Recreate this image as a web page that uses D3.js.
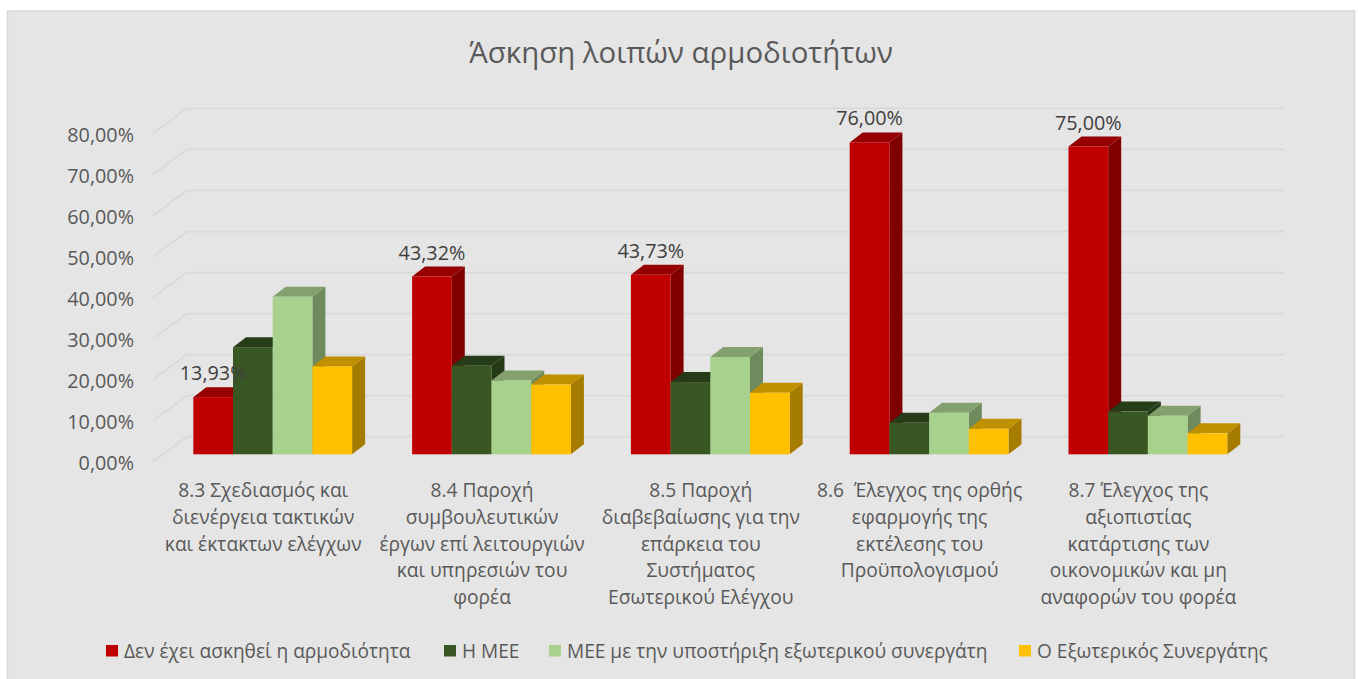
<!DOCTYPE html>
<html>
<head>
<meta charset="utf-8">
<script src="https://cdn.jsdelivr.net/npm/d3@7"></script>
<style>
html, body { margin: 0; background: #fff; }
text { font-family: "Open Sans", "Noto Sans", sans-serif; }
</style>
</head>
<body>
<svg width="1358" height="679"></svg>
<script>
var chartTitle = "Άσκηση λοιπών αρμοδιοτήτων";

var categories = [
    ["8.3 Σχεδιασμός και", "διενέργεια τακτικών", "και έκτακτων ελέγχων"],
    ["8.4 Παροχή", "συμβουλευτικών", "έργων επί λειτουργιών", "και υπηρεσιών του", "φορέα"],
    ["8.5 Παροχή", "διαβεβαίωσης για την", "επάρκεια του", "Συστήματος", "Εσωτερικού Ελέγχου"],
    ["8.6  Έλεγχος της ορθής", "εφαρμογής της", "εκτέλεσης του", "Προϋπολογισμού"],
    ["8.7 Έλεγχος της", "αξιοπιστίας", "κατάρτισης των", "οικονομικών και μη", "αναφορών του φορέα"]
];
var seriesNames = ["Δεν έχει ασκηθεί η αρμοδιότητα", "Η ΜΕΕ", "ΜΕΕ με την υποστήριξη εξωτερικού συνεργάτη", "Ο Εξωτερικός Συνεργάτης"];

var notExercised = [13.93, 43.32, 43.73, 76.00, 75.00];
var byUnit = [26.1, 21.6, 17.6, 7.7, 10.4];
var withPartner = [38.4, 18.0, 23.7, 10.1, 9.4];
var partnerOnly = [21.4, 17.0, 15.0, 6.2, 5.1];
var seriesValues = [notExercised, byUnit, withPartner, partnerOnly];

var yTicks = [0, 10, 20, 30, 40, 50, 60, 70, 80];

// front, top and side shade of every series
var frontColors = ["#c00000", "#385723", "#a9d18e", "#ffc000"];
var topColors = ["#960000", "#263c18", "#83a06e", "#c09000"];
var sideColors = ["#800000", "#243a17", "#6f8a5c", "#a67c00"];

var svg = d3.select("svg");

svg.append("rect")
    .attr("x", 7.5).attr("y", 11)
    .attr("width", 1347).attr("height", 680)
    .attr("fill", "#e5e5e5")
    .attr("stroke", "#d9d9d9")
    .attr("stroke-width", 1.5);

svg.append("text")
    .attr("x", 681).attr("y", 63)
    .attr("text-anchor", "middle")
    .attr("font-size", 29.4)
    .attr("fill", "#595959")
    .text(chartTitle);

var y = d3.scaleLinear().domain([0, 80]).range([454.3, 126]);
var x = d3.scaleBand()
    .domain(d3.range(categories.length))
    .range([163.3, 1257.3])
    .paddingInner(60 / 218.8)
    .paddingOuter(30 / 218.8);
var xSeries = d3.scaleBand()
    .domain(d3.range(seriesNames.length))
    .range([0, x.bandwidth()]);

// 3d offsets
var wallDx = 34, wallDy = 25, barDx = 13, barDy = 10;
var gridLeft = 187, gridRight = 1284;

// floor and wall lines
var grid = svg.append("g")
    .attr("fill", "none")
    .attr("stroke", "#d9d9d9")
    .attr("stroke-width", 1.75);
grid.selectAll("path")
    .data(yTicks)
    .enter().append("path")
    .attr("d", function(d) {
        var yBack = y(d) - 17.6;
        return "M" + (gridLeft - wallDx) + "," + (yBack + wallDy) + "L" + gridLeft + "," + yBack + "H" + gridRight;
    });

// y labels
var comma = d3.formatLocale({ decimal: ",", thousands: ".", grouping: [3], currency: ["", "€"] }).format(".2f");
var yAxis = svg.append("g")
    .attr("transform", "translate(134,9)")
    .call(d3.axisLeft(y).tickValues(yTicks).tickSize(0).tickPadding(0)
        .tickFormat(function(d) { return comma(d) + "%"; }));
yAxis.select(".domain").remove();
yAxis.selectAll("text")
    .attr("font-size", 19.8)
    .attr("font-family", null)
    .attr("fill", "#595959");

// bars, drawn left to right so that each one covers the side of the previous
var groups = svg.selectAll(".group")
    .data(categories)
    .enter().append("g")
    .attr("class", "group")
    .attr("transform", function(d, i) { return "translate(" + x(i) + ",0)"; });

groups.each(function(d, i) {
    var g = d3.select(this);
    seriesValues.forEach(function(values, s) {
        var x0 = xSeries(s),
            x1 = x0 + xSeries.bandwidth(),
            y0 = y(0),
            y1 = y(values[i]);
        g.append("path")
            .attr("fill", sideColors[s])
            .attr("d", "M" + x1 + "," + y1 + "l" + barDx + "," + (-barDy) + "V" + (y0 - barDy) + "L" + x1 + "," + y0 + "Z");
        g.append("path")
            .attr("fill", topColors[s])
            .attr("d", "M" + x0 + "," + y1 + "l" + barDx + "," + (-barDy) + "H" + (x1 + barDx) + "L" + x1 + "," + y1 + "Z");
        g.append("rect")
            .attr("x", x0)
            .attr("y", y1)
            .attr("width", x1 - x0)
            .attr("height", y0 - y1)
            .attr("fill", frontColors[s]);
    });
});

// data labels only on the first series
groups.append("text")
    .attr("x", xSeries(0) + xSeries.bandwidth() / 2)
    .attr("y", function(d, i) { return y(notExercised[i]) - 17; })
    .attr("text-anchor", "middle")
    .attr("font-size", 19.8)
    .attr("fill", "#404040")
    .text(function(d, i) { return comma(notExercised[i]) + "%"; });

// category labels
var catLabels = svg.append("g")
    .selectAll("text")
    .data(categories)
    .enter().append("text")
    .attr("text-anchor", "middle")
    .attr("font-size", 19.2)
    .attr("fill", "#595959")
    .attr("y", 497);
catLabels.selectAll("tspan")
    .data(function(d, i) { return d.map(function(line) { return { line: line, i: i }; }); })
    .enter().append("tspan")
    .attr("x", function(d) { return x(d.i) + x.bandwidth() / 2 - 9.5; })
    .attr("dy", function(d, j) { return j ? 26.8 : 0; })
    .style("white-space", "pre")
    .text(function(d) { return d.line; });

// legend
var legendX = [106, 444, 549, 1019];
var legend = svg.selectAll(".legend")
    .data(seriesNames)
    .enter().append("g")
    .attr("class", "legend")
    .attr("transform", function(d, i) { return "translate(" + legendX[i] + ",645)"; });
legend.append("rect")
    .attr("width", 12).attr("height", 11.5)
    .attr("fill", function(d, i) { return frontColors[i]; });
legend.append("text")
    .attr("x", 18).attr("y", 13)
    .attr("font-size", 19.1)
    .attr("fill", "#595959")
    .text(function(d) { return d; });
</script>
</body>
</html>
